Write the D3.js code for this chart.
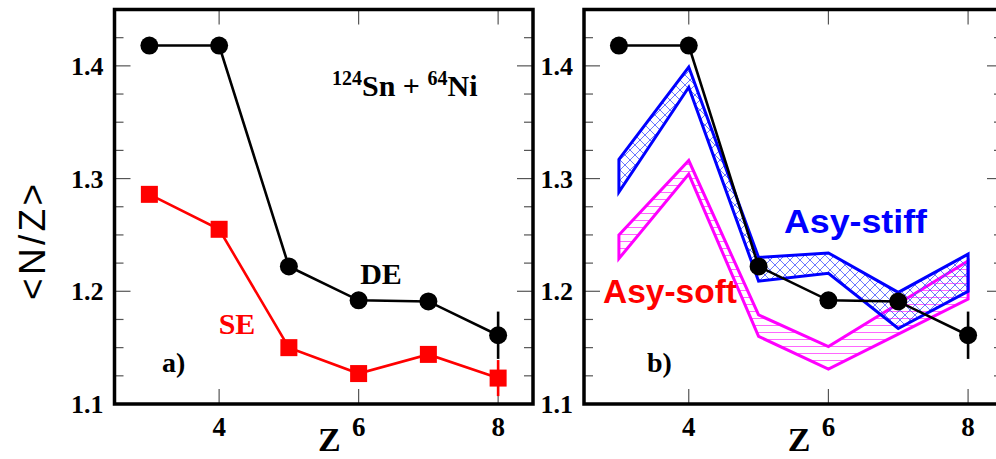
<!DOCTYPE html>
<html>
<head>
<meta charset="utf-8">
<script src="https://cdn.jsdelivr.net/npm/d3@7"></script>
<style>
  html, body { margin: 0; padding: 0; background: #fff; }
  svg { display: block; }
  .serif { font-family: "Liberation Serif", "Times New Roman", serif; font-weight: bold; }
  .sans { font-family: "Liberation Sans", Arial, sans-serif; }
</style>
</head>
<body>
<svg id="chart" width="996" height="459"></svg>
<script>
/* ── Data ───────────────────────────────────────────────── */
const Z = [3, 4, 5, 6, 7, 8];
const DE = [1.418, 1.418, 1.222, 1.192, 1.191, 1.161];
const DE_err = [0, 0, 0, 0, 0, 0.021];
const SE = [1.286, 1.255, 1.150, 1.127, 1.144, 1.123];
const SE_err = [0, 0, 0, 0, 0, 0.016];
const stiffHi = [1.317, 1.399, 1.230, 1.234, 1.199, 1.233];
const stiffLo = [1.288, 1.381, 1.209, 1.216, 1.167, 1.200];
const softHi = [1.250, 1.316, 1.179, 1.151, 1.189, 1.227];
const softLo = [1.229, 1.304, 1.160, 1.131, 1.162, 1.193];
const xTicks = [4, 6, 8];
const yTicks = [1.1, 1.2, 1.3, 1.4];

const svg = d3.select('#chart');

/* ── Patterns for the hatched bands ─────────────────────── */
const defs = svg.append('defs');
const cross = defs.append('pattern')
  .attr('id', 'hatch-blue').attr('patternUnits', 'userSpaceOnUse')
  .attr('width', 10).attr('height', 10);
cross.append('path').attr('d', 'M0,0 L10,10 M10,0 L0,10')
  .attr('stroke', '#4455ff').attr('stroke-width', 0.8).attr('fill', 'none');
const horiz = defs.append('pattern')
  .attr('id', 'hatch-mag').attr('patternUnits', 'userSpaceOnUse')
  .attr('width', 8).attr('height', 7);
horiz.append('path').attr('d', 'M0,3.5 L8,3.5')
  .attr('stroke', '#ff55ff').attr('stroke-width', 0.9).attr('fill', 'none');

/* ── One panel ──────────────────────────────────────────── */
function panel(x0, x1, withBands) {
  const top = 9.5, bottom = 404;
  const x = d3.scaleLinear().domain([2.5, 8.5]).range([x0, x1]);
  const y = d3.scaleLinear().domain([1.1, 1.45]).range([bottom, top]);
  const g = svg.append('g');

  // y ticks (left & right, inward)
  const minor = d3.range(1.1, 1.4501, 0.025);
  minor.forEach(v => {
    const major = yTicks.some(t => Math.abs(t - v) < 1e-6);
    const len = major ? 16 : 9;
    g.append('line').attr('x1', x0).attr('x2', x0 + len).attr('y1', y(v)).attr('y2', y(v))
      .attr('stroke', '#555').attr('stroke-width', 1.2);
    g.append('line').attr('x1', x1).attr('x2', x1 - len).attr('y1', y(v)).attr('y2', y(v))
      .attr('stroke', '#555').attr('stroke-width', 1.2);
  });
  yTicks.forEach(v => {
    g.append('text').attr('class', 'serif').attr('x', x0 - 11).attr('y', y(v) + 9)
      .attr('text-anchor', 'end').attr('font-size', 26).text(d3.format('.1f')(v));
  });

  // x ticks (top & bottom, inward)
  xTicks.forEach(v => {
    g.append('line').attr('x1', x(v)).attr('x2', x(v)).attr('y1', bottom).attr('y2', bottom - 15)
      .attr('stroke', '#555').attr('stroke-width', 1.2);
    g.append('line').attr('x1', x(v)).attr('x2', x(v)).attr('y1', top).attr('y2', top + 15)
      .attr('stroke', '#555').attr('stroke-width', 1.2);
    g.append('text').attr('class', 'serif').attr('x', x(v)).attr('y', 436)
      .attr('text-anchor', 'middle').attr('font-size', 27).text(v);
  });

  // Z axis label
  g.append('text').attr('class', 'serif').attr('x', x(5.58)).attr('y', 451)
    .attr('text-anchor', 'middle').attr('font-size', 34).text('Z');

  if (withBands) {
    const bands = [
      { hi: softHi, lo: softLo, fill: 'url(#hatch-mag)', stroke: '#ff00ff' },
      { hi: stiffHi, lo: stiffLo, fill: 'url(#hatch-blue)', stroke: '#0000ff' }
    ];
    bands.forEach(b => {
      const area = d3.area().x((d, i) => x(Z[i])).y0((d, i) => y(b.lo[i])).y1(d => y(d));
      g.append('path').datum(b.hi).attr('d', area)
        .attr('fill', b.fill).attr('stroke', b.stroke).attr('stroke-width', 3)
        .attr('stroke-linejoin', 'miter');
    });
  }

  // series with markers
  const line = vals => d3.line().x((d, i) => x(Z[i])).y(d => y(d))(vals);
  const series = withBands
    ? [{ v: DE, e: DE_err, c: '#000', m: 'circle' }]
    : [{ v: SE, e: SE_err, c: '#ff0000', m: 'square' }, { v: DE, e: DE_err, c: '#000', m: 'circle' }];
  series.forEach(s => {
    s.v.forEach((d, i) => {
      if (s.e[i] > 0) {
        g.append('line').attr('x1', x(Z[i])).attr('x2', x(Z[i]))
          .attr('y1', y(d - s.e[i])).attr('y2', y(d + s.e[i]))
          .attr('stroke', s.c).attr('stroke-width', 2.6);
      }
    });
    g.append('path').attr('d', line(s.v)).attr('fill', 'none')
      .attr('stroke', s.c).attr('stroke-width', 2.6);
    const mk = g.selectAll(null).data(s.v).enter();
    if (s.m === 'circle') {
      mk.append('circle').attr('cx', (d, i) => x(Z[i])).attr('cy', d => y(d))
        .attr('r', 9).attr('fill', s.c);
    } else {
      mk.append('rect').attr('x', (d, i) => x(Z[i]) - 8.5).attr('y', d => y(d) - 8.5)
        .attr('width', 17).attr('height', 17).attr('fill', s.c);
    }
  });

  // frame
  g.append('rect').attr('x', x0).attr('y', top).attr('width', x1 - x0).attr('height', bottom - top)
    .attr('fill', 'none').attr('stroke', '#000').attr('stroke-width', 3.5);

  return { g, x, y };
}

/* ── Panel a) ───────────────────────────────────────────── */
const a = panel(114.5, 533, false);
const t = a.g.append('text').attr('class', 'serif').attr('x', 332).attr('y', 96).attr('font-size', 30);
t.append('tspan').attr('font-size', 20).attr('dy', -11).text('124');
t.append('tspan').attr('dy', 11).text('Sn + ');
t.append('tspan').attr('font-size', 20).attr('dy', -11).text('64');
t.append('tspan').attr('dy', 11).text('Ni');
a.g.append('text').attr('class', 'serif').attr('x', 381).attr('y', 284)
  .attr('text-anchor', 'middle').attr('font-size', 30).text('DE');
a.g.append('text').attr('class', 'serif').attr('x', 237).attr('y', 334)
  .attr('text-anchor', 'middle').attr('font-size', 30).attr('fill', '#ff0000').text('SE');
a.g.append('text').attr('class', 'serif').attr('x', 162).attr('y', 372)
  .attr('font-size', 28).text('a)');

/* ── Panel b) ───────────────────────────────────────────── */
const b = panel(584, 1003, true);
b.g.append('text').attr('class', 'serif').attr('x', 647).attr('y', 372)
  .attr('font-size', 28).text('b)');
b.g.append('text').attr('class', 'sans').attr('x', 784).attr('y', 233)
  .attr('font-size', 33).attr('font-weight', 'bold').attr('fill', '#0000ff')
  .attr('textLength', 143).attr('lengthAdjust', 'spacingAndGlyphs').text('Asy-stiff');
b.g.append('text').attr('class', 'sans').attr('x', 603).attr('y', 303)
  .attr('font-size', 33).attr('font-weight', 'bold').attr('fill', '#ff0000')
  .attr('textLength', 134).attr('lengthAdjust', 'spacingAndGlyphs').text('Asy-soft');

/* ── Shared y label ─────────────────────────────────────── */
svg.append('text').attr('class', 'sans')
  .attr('transform', 'translate(45,242) rotate(-90)')
  .attr('text-anchor', 'middle').attr('font-size', 37)
  .attr('textLength', 116).attr('lengthAdjust', 'spacing')
  .text('<N/Z>');
</script>
</body>
</html>
